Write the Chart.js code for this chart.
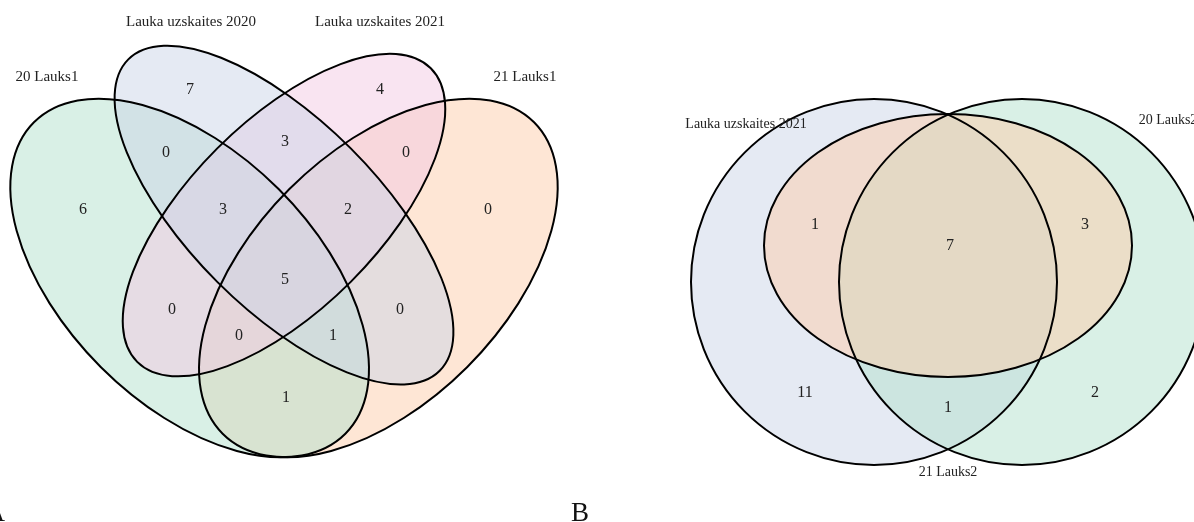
<!DOCTYPE html>
<html><head><meta charset="utf-8">
<script src="https://cdn.jsdelivr.net/npm/chart.js@4.4.1/dist/chart.umd.min.js"></script>
<style>html,body{margin:0;padding:0;background:#fff;overflow:hidden}canvas{display:block}</style>
</head><body>
<canvas id="c" width="1194" height="522"></canvas>
<script>
// ---------------- DATA ----------------
const leftSetNames = ['20 Lauks1', 'Lauka uzskaites 2020', 'Lauka uzskaites 2021', '21 Lauks1'];
// region counts (left 4-set diagram)
const leftRegionCounts = [7, 4, 0, 3, 0, 6, 3, 2, 0, 5, 0, 0, 0, 1, 1];
const rightSetNames = ['Lauka uzskaites 2021', '20 Lauks2', '21 Lauks2'];
const rightRegionCounts = [1, 7, 3, 11, 1, 2];
const panelLetters = ['A', 'B'];

// ---------------- LAYOUT (geometry & styles, not data) ----------------
const PASTEL = {
  green: 'rgba(179,226,205,0.5)', orange: 'rgba(253,205,172,0.5)',
  blue: 'rgba(203,213,232,0.5)', pink: 'rgba(244,202,228,0.5)'
};
// ellipses in scale units; rotation in degrees (screen, clockwise)
const leftShapes = [
  {cx: 378.35, cy: 278, a: 220.2, b: 125.8, rot: -45, fill: PASTEL.orange},
  {cx: 189.65, cy: 278, a: 220.2, b: 125.8, rot: 45, fill: PASTEL.green},
  {cx: 284, cy: 215.1, a: 207.6, b: 94.4, rot: -45, fill: PASTEL.pink},
  {cx: 284, cy: 215.1, a: 220.2, b: 94.4, rot: 45, fill: PASTEL.blue}
];
const rightShapes = [
  {cx: 874, cy: 282, a: 183, b: 183, rot: 0, fill: PASTEL.blue},
  {cx: 1022, cy: 282, a: 183, b: 183, rot: 0, fill: PASTEL.green},
  {cx: 948, cy: 245.5, a: 184, b: 131.5, rot: 0, fill: PASTEL.orange}
];
const leftCountPos = [[190,90],[380,90],[166,153],[285,142],[406,153],[83,210],[223,210],[348,210],[488,210],[285,280],[172,310],[400,310],[239,336],[333,336],[286,398]];
const leftNamePos = [[47,77],[191,22],[380,22],[525,77]];
const rightCountPos = [[815,225],[950,246],[1085,225],[805,393],[948,408],[1095,393]];
const rightNamePos = [[746,124],[1168,120],[948,472]];
const letterPos = [[5,521,'right'],[580,521,'center']];

const vennPlugin = {
  id: 'venn',
  afterDraw(chart) {
    const ctx = chart.ctx, xs = chart.scales.x, ys = chart.scales.y;
    const px = v => xs.getPixelForValue(v), py = v => ys.getPixelForValue(v);
    const path = s => {
      ctx.beginPath();
      ctx.ellipse(px(s.cx), py(s.cy), Math.abs(px(s.cx + s.a) - px(s.cx)), Math.abs(py(s.cy + s.b) - py(s.cy)), s.rot * Math.PI / 180, 0, Math.PI * 2);
    };
    ctx.save();
    [leftShapes, rightShapes].forEach(group => {
      group.forEach(s => { path(s); ctx.fillStyle = s.fill; ctx.fill(); });
      group.forEach(s => { path(s); ctx.lineWidth = 2; ctx.strokeStyle = '#000'; ctx.stroke(); });
    });
    ctx.textAlign = 'center'; ctx.textBaseline = 'middle'; ctx.fillStyle = '#222';
    const txt = (t, p, size) => { ctx.font = size + 'px "Liberation Serif", "Times New Roman", serif'; ctx.fillText(String(t), px(p[0]), py(p[1])); };
    leftRegionCounts.forEach((v, i) => txt(v, leftCountPos[i], 16));
    rightRegionCounts.forEach((v, i) => txt(v, rightCountPos[i], 16));
    leftSetNames.forEach((n, i) => txt(n, leftNamePos[i], 15));
    rightSetNames.forEach((n, i) => txt(n, rightNamePos[i], 14));
    ctx.textBaseline = 'alphabetic'; ctx.fillStyle = '#111';
    panelLetters.forEach((l, i) => {
      ctx.textAlign = letterPos[i][2];
      ctx.font = '27px "Liberation Serif", "Times New Roman", serif';
      ctx.fillText(l, px(letterPos[i][0]), py(letterPos[i][1]));
    });
    ctx.restore();
  }
};

new Chart(document.getElementById('c'), {
  type: 'scatter',
  data: { datasets: [{ data: [], pointRadius: 0 }] },
  options: {
    responsive: false, animation: false, devicePixelRatio: 1,
    layout: { padding: 0 },
    plugins: { legend: { display: false }, tooltip: { enabled: false } },
    scales: {
      x: { type: 'linear', min: 0, max: 1194, display: false },
      y: { type: 'linear', min: 0, max: 522, reverse: true, display: false }
    }
  },
  plugins: [vennPlugin]
});
</script>
</body></html>
